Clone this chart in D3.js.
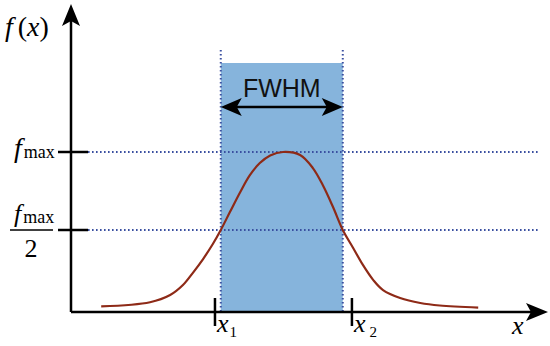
<!DOCTYPE html>
<html>
<head>
<meta charset="utf-8">
<script src="https://cdn.jsdelivr.net/npm/d3@7"></script>
<style>
  html, body { margin: 0; padding: 0; background: #fff; }
  svg { display: block; }
  .serif { font-family: "Times New Roman", Times, "Liberation Serif", "DejaVu Serif", "Noto Serif", serif; }
  .sans { font-family: "Liberation Sans", Arial, sans-serif; }
</style>
</head>
<body>
<div id="chart"></div>
<script>
// curve (x in half-widths from the peak, f relative to fmax)
const curveX = [-2.98, -2.18, -1.85, -1.64, -1.48, -1.31, -1.15, -1.02, -0.87, -0.70, -0.54, -0.38, -0.21, 0,
  0.28, 0.49, 0.66, 0.82, 0.98, 1.15, 1.31, 1.48, 1.64, 1.92, 2.25, 2.57, 3.20];
const curveF = [0.010, 0.037, 0.083, 0.147, 0.224, 0.314, 0.410, 0.5, 0.615, 0.744, 0.853, 0.929, 0.978, 1,
  0.981, 0.897, 0.782, 0.647, 0.5, 0.385, 0.276, 0.179, 0.115, 0.064, 0.032, 0.016, 0.003];

const fLevels = [1, 0.5];            // fmax and fmax/2
const halfPoints = [-1.02, 0.98];    // edges of the FWHM band
const xTicks = [-1.115, 1.13];       // x1, x2
const xTickSubs = ["1", "2"];

const width = 550, height = 346;

const x = d3.scaleLinear().domain([-3.475, 4.344]).range([71, 548]);
const y = d3.scaleLinear().domain([0, 1]).range([308, 152]);
const axisY = 312;

const svg = d3.select("#chart").append("svg")
  .attr("width", width)
  .attr("height", height)
  .attr("viewBox", `0 0 ${width} ${height}`);

const blue = "#86b4dc";
const dotBlue = "#3a4fa0";
const red = "#8e2a17";

// FWHM band
svg.append("rect")
  .attr("x", x(halfPoints[0]))
  .attr("y", 63)
  .attr("width", x(halfPoints[1]) - x(halfPoints[0]))
  .attr("height", axisY - 63)
  .attr("fill", blue);

// dotted guides
svg.selectAll("line.hguide")
  .data(fLevels)
  .join("line")
  .attr("class", "hguide")
  .attr("x1", 88).attr("x2", 538)
  .attr("y1", d => y(d)).attr("y2", d => y(d))
  .attr("stroke", dotBlue)
  .attr("stroke-width", 2)
  .attr("stroke-dasharray", "1.6,2.4");

svg.selectAll("line.vguide")
  .data(halfPoints)
  .join("line")
  .attr("class", "vguide")
  .attr("x1", d => x(d)).attr("x2", d => x(d))
  .attr("y1", 50).attr("y2", axisY)
  .attr("stroke", dotBlue)
  .attr("stroke-width", 2)
  .attr("stroke-dasharray", "1.6,2.4");

// curve
const pts = curveX.map((d, i) => [d, curveF[i]]);
svg.append("path")
  .datum(pts)
  .attr("d", d3.line().x(d => x(d[0])).y(d => y(d[1])).curve(d3.curveCatmullRom))
  .attr("fill", "none")
  .attr("stroke", red)
  .attr("stroke-width", 2.2);

// axes
const x0 = x.range()[0];
const ax = svg.append("g").attr("stroke", "#000").attr("stroke-width", 2.5);
ax.append("line").attr("x1", x0).attr("x2", 532).attr("y1", axisY).attr("y2", axisY);
ax.append("line").attr("x1", x0).attr("x2", x0).attr("y1", axisY).attr("y2", 20);

// arrowheads
svg.append("path")
  .attr("d", `M${x0},4 L${x0 + 9},26 L${x0},21 L${x0 - 9},26 Z`)
  .attr("fill", "#000");
svg.append("path")
  .attr("d", `M548,${axisY} L526,${axisY - 9} L531,${axisY} L526,${axisY + 9} Z`)
  .attr("fill", "#000");

// y ticks
ax.selectAll("line.ytick")
  .data(fLevels)
  .join("line")
  .attr("x1", 58).attr("x2", 88)
  .attr("y1", d => y(d)).attr("y2", d => y(d));

// x ticks
ax.selectAll("line.xtick")
  .data(xTicks)
  .join("line")
  .attr("x1", d => x(d)).attr("x2", d => x(d))
  .attr("y1", 298).attr("y2", 326);

// labels
const t = svg.append("g").attr("class", "serif").attr("fill", "#000");

const fx = t.append("text").attr("x", 5).attr("y", 36).attr("font-size", 28);
fx.append("tspan").attr("font-style", "italic").text("f");
fx.append("tspan").attr("dx", 5).text("(");
fx.append("tspan").attr("font-style", "italic").text("x");
fx.append("tspan").text(")");

const fm = t.append("text").attr("x", 14).attr("y", y(1) + 5).attr("font-size", 28);
fm.append("tspan").attr("font-style", "italic").text("f");
fm.append("tspan").attr("font-size", 18).attr("dx", 2).attr("dy", 1).text("max");

const fh = t.append("text").attr("x", 14).attr("y", y(0.5) - 8).attr("font-size", 26);
fh.append("tspan").attr("font-style", "italic").text("f");
fh.append("tspan").attr("font-size", 18).attr("dx", 2).attr("dy", 1).text("max");
t.append("line")
  .attr("x1", 10).attr("x2", 53)
  .attr("y1", y(0.5)).attr("y2", y(0.5))
  .attr("stroke", "#000").attr("stroke-width", 1.5);
t.append("text").attr("x", 31).attr("y", y(0.5) + 27)
  .attr("text-anchor", "middle").attr("font-size", 26).text("2");

t.selectAll("text.xlab")
  .data(xTicks)
  .join("text")
  .attr("class", "xlab")
  .attr("x", d => x(d) + 2)
  .attr("y", 332)
  .attr("font-size", 26)
  .each(function (d, i) {
    const s = d3.select(this);
    s.append("tspan").attr("font-style", "italic").text("x");
    s.append("tspan").attr("font-size", 15).attr("dx", i ? 4 : 1).attr("dy", 5).text(xTickSubs[i]);
  });

t.append("text").attr("x", 512).attr("y", 334)
  .attr("font-size", 26).attr("font-style", "italic").text("x");

// FWHM annotation
const ay = 107, l = x(halfPoints[0]), r = x(halfPoints[1]);
svg.append("line")
  .attr("x1", l + 12).attr("x2", r - 12).attr("y1", ay).attr("y2", ay)
  .attr("stroke", "#000").attr("stroke-width", 2.5);
svg.append("path")
  .attr("d", `M${l},${ay} L${l + 21},${ay - 9} L${l + 16},${ay} L${l + 21},${ay + 9} Z
              M${r},${ay} L${r - 21},${ay - 9} L${r - 16},${ay} L${r - 21},${ay + 9} Z`)
  .attr("fill", "#000");
svg.append("text")
  .attr("class", "sans")
  .attr("x", (l + r) / 2).attr("y", 97)
  .attr("text-anchor", "middle")
  .attr("font-size", 25)
  .attr("fill", "#111")
  .text("FWHM");
</script>
</body>
</html>
